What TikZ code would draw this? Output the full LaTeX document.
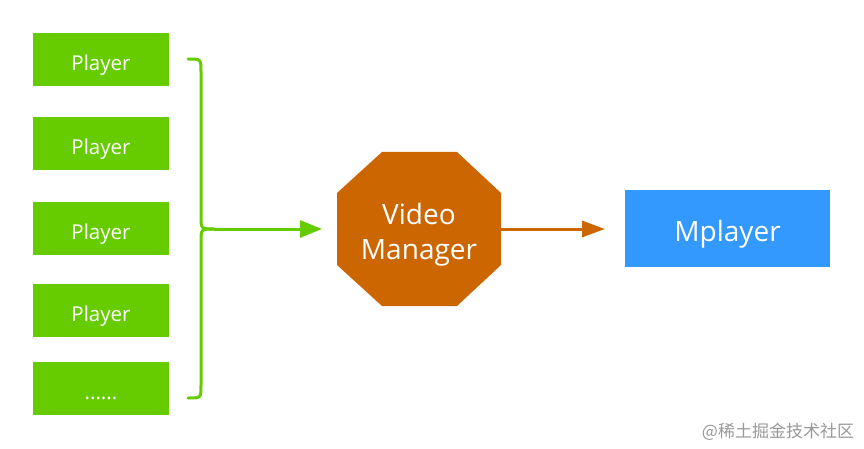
\documentclass[tikz,border=0pt]{standalone}
\usepackage{fontspec}
\setmainfont{Open Sans}
\newfontfamily\cjk{Noto Sans CJK SC}
\usetikzlibrary{arrows.meta}
\definecolor{pgreen}{HTML}{66CC00}
\definecolor{vorange}{HTML}{CC6600}
\definecolor{mblue}{HTML}{3399FF}
\tikzset{
  playerbox/.style={fill=pgreen, draw=none, minimum width=136pt, minimum height=53pt, inner sep=0pt, text=white, font=\fontsize{20.5}{24}\selectfont, text height=22pt, text depth=0pt},
  greenline/.style={draw=pgreen, line width=3pt},
  greenarrow/.style={draw=pgreen, line width=3pt, -{Triangle[length=22pt,width=17pt]}},
  orangearrow/.style={draw=vorange, line width=3pt, -{Triangle[length=23pt,width=16pt]}},
}
\begin{document}
\begin{tikzpicture}[x=1pt,y=-1pt]
\useasboundingbox (0,0) rectangle (864,449);
\node[playerbox] (p1) at (101,59.5) {Player};
\node[playerbox] (p2) at (101,143.5) {Player};
\node[playerbox] (p3) at (101,228.5) {Player};
\node[playerbox] (p4) at (101,310) {Player};
\node[playerbox] (p5) at (101,388.5) {......};
% brace
\coordinate (bt) at (188,59);
\coordinate (bb) at (188,398);
\coordinate (tip) at (214,229);
\draw[greenline, line cap=round] (bt) .. controls (201,59) .. (201,72) -- (201,216) .. controls (201,229) .. (tip);
\draw[greenline, line cap=round] (tip) .. controls (201,229) .. (201,242) -- (201,385) .. controls (201,398) .. (bb);
\coordinate (ga) at (322,229);
\draw[greenarrow] (tip) -- (ga);
% octagon
\fill[vorange] (382,152) -- (457,152) -- (501,193) -- (501,265) -- (457,306) -- (382,306) -- (337,265) -- (337,193) -- cycle;
\node[minimum width=164pt, minimum height=154pt, inner sep=0pt] (vm) at (419,229) {};
\node[text=white, align=center, font=\fontsize{28}{35}\selectfont, inner sep=0pt] (vmt) at (419,235) {Video\\Manager};
\coordinate (oa) at (605,229);
\draw[orangearrow] (vm.east) -- (oa);
\node[fill=mblue, minimum width=205pt, minimum height=77pt, inner sep=0pt, text=white, font=\fontsize{28}{30}\selectfont, text height=25pt, text depth=0pt] (mp) at (727.5,228.5) {Mplayer};
\node[text=black!40, font=\cjk\fontsize{17}{20}\selectfont, inner sep=0pt] (wm) at (778,432) {@稀土掘金技术社区};
\end{tikzpicture}
\end{document}
